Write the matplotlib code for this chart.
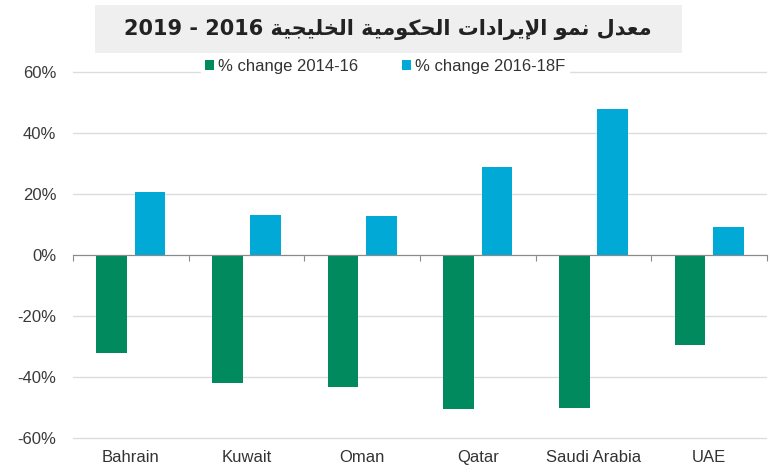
import numpy as np
import matplotlib
matplotlib.use("Agg")
import matplotlib.pyplot as plt
from matplotlib.patches import Rectangle
from matplotlib.transforms import blended_transform_factory

countries = ["Bahrain", "Kuwait", "Oman", "Qatar", "Saudi Arabia", "UAE"]
change_14_16 = [-32.0, -42.0, -43.3, -50.5, -50.2, -29.5]
change_16_18 = [20.8, 13.1, 12.8, 28.9, 47.9, 9.2]
series_names = ["% change 2014-16", "% change 2016-18F"]
yticks = [-60, -40, -20, 0, 20, 40, 60]

title_ar = "معدل نمو الإيرادات الحكومية الخليجية"
title_years = "2019 - 2016"

green = "#008a5e"
cyan = "#00a9d6"

# matplotlib has no arabic shaping, so pick presentation forms by hand
# (iso, fin, ini, med); None = letter does not join the next one
forms = {
    "ا": (0xFE8D, 0xFE8E, None, None), "إ": (0xFE87, 0xFE88, None, None),
    "د": (0xFEA9, 0xFEAA, None, None), "ر": (0xFEAD, 0xFEAE, None, None),
    "و": (0xFEED, 0xFEEE, None, None), "ة": (0xFE93, 0xFE94, None, None),
    "ت": (0xFE95, 0xFE96, 0xFE97, 0xFE98), "ج": (0xFE9D, 0xFE9E, 0xFE9F, 0xFEA0),
    "ح": (0xFEA1, 0xFEA2, 0xFEA3, 0xFEA4), "خ": (0xFEA5, 0xFEA6, 0xFEA7, 0xFEA8),
    "ع": (0xFEC9, 0xFECA, 0xFECB, 0xFECC), "ك": (0xFED9, 0xFEDA, 0xFEDB, 0xFEDC),
    "ل": (0xFEDD, 0xFEDE, 0xFEDF, 0xFEE0), "م": (0xFEE1, 0xFEE2, 0xFEE3, 0xFEE4),
    "ن": (0xFEE5, 0xFEE6, 0xFEE7, 0xFEE8), "ي": (0xFEF1, 0xFEF2, 0xFEF3, 0xFEF4),
}
lam_alef = {"ا": (0xFEFB, 0xFEFC), "إ": (0xFEF9, 0xFEFA)}


def shape(text):
    out = []
    chars = list(text)
    i = 0
    prev_joins = False
    while i < len(chars):
        c = chars[i]
        if c not in forms:
            out.append(c)
            prev_joins = False
            i += 1
            continue
        if c == "ل" and i + 1 < len(chars) and chars[i + 1] in lam_alef:
            iso, fin = lam_alef[chars[i + 1]]
            out.append(chr(fin if prev_joins else iso))
            prev_joins = False
            i += 2
            continue
        iso, fin, ini, med = forms[c]
        nxt = chars[i + 1] if i + 1 < len(chars) else None
        next_joins = ini is not None and nxt in forms
        if prev_joins and next_joins:
            g = med
        elif prev_joins:
            g = fin
        elif next_joins:
            g = ini
        else:
            g = iso
        out.append(chr(g))
        prev_joins = ini is not None
        i += 1
    return "".join(out)[::-1]


plt.rcParams["font.family"] = ["Liberation Sans", "DejaVu Sans"]

fig = plt.figure(figsize=(7.7, 4.72), dpi=100)
ax = fig.add_axes([0.0948, 0.0657, 0.9013, 0.7883])

x = np.arange(len(countries))
w = 0.265
ax.bar(x - 0.167, change_14_16, w, color=green, label=series_names[0], zorder=3)
ax.bar(x + 0.167, change_16_18, w, color=cyan, label=series_names[1], zorder=3)

ax.set_xlim(-0.5, len(countries) - 0.5)
ax.set_ylim(-61, 61)
ax.set_yticks(yticks)
ax.set_yticklabels([f"{v}%" for v in yticks])
ax.yaxis.grid(True, color="#dcdcdc", lw=1)
ax.set_axisbelow(True)
ax.tick_params(axis="y", length=0, labelsize=12, labelcolor="#3a3a3a", pad=12)

for s in ["left", "right", "top"]:
    ax.spines[s].set_visible(False)
ax.spines["bottom"].set_position(("data", 0))
ax.spines["bottom"].set_color("#8a8a8a")
ax.spines["bottom"].set_zorder(4)
ax.set_xticks(np.arange(len(countries) + 1) - 0.5)
ax.set_xticklabels([])
ax.tick_params(axis="x", direction="out", length=4, color="#8a8a8a")

trans = blended_transform_factory(ax.transData, ax.transAxes)
for xi, name in zip(x, countries):
    ax.text(xi, -0.045, name, transform=trans, ha="center", va="center",
            fontsize=12, color="#333333")

fig.legend(loc="center", bbox_to_anchor=(385 / 770, 1 - 66 / 472), ncol=2,
           frameon=True, facecolor="white", edgecolor="white", framealpha=1,
           fontsize=12, handlelength=0.55, handleheight=0.55,
           handletextpad=0.25, columnspacing=2.6, borderpad=0.2,
           labelcolor="#333333", fancybox=False)

fig.patches.append(Rectangle((95 / 770, 1 - 53 / 472), 587 / 770, 48 / 472,
                             transform=fig.transFigure, facecolor="#efefef",
                             edgecolor="none", zorder=0))
fig.text(388 / 770, 1 - 29 / 472, title_years + " " + shape(title_ar),
         ha="center", va="center", fontsize=15, fontweight="bold",
         color="#222222", family=["DejaVu Sans"])

fig.savefig("out.png", dpi=100)
